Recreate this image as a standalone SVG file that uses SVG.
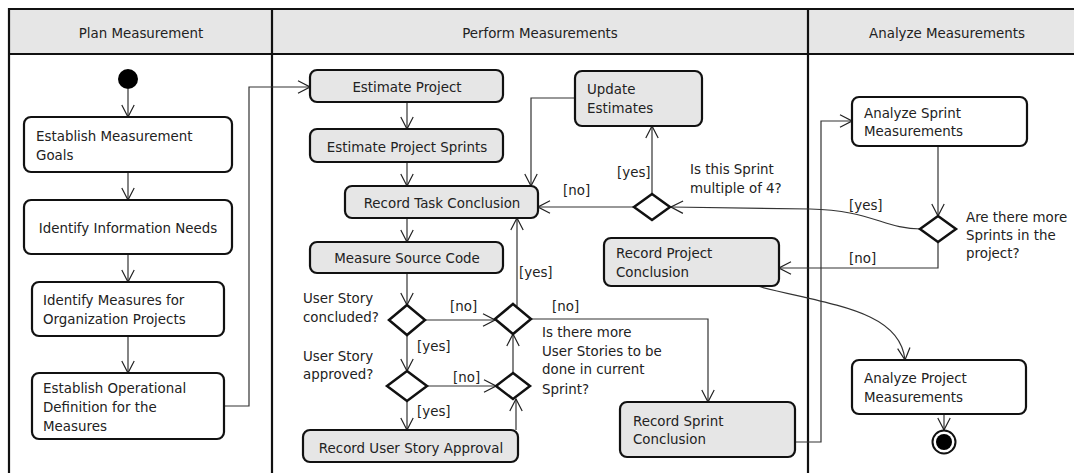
<svg xmlns="http://www.w3.org/2000/svg" width="1074" height="473" viewBox="0 0 1074 473">
<defs>
<marker id="arr" viewBox="0 0 14 14" refX="13" refY="7" markerWidth="14" markerHeight="14" markerUnits="userSpaceOnUse" orient="auto">
<path d="M1,0.8 L13,7 L1,13.2" fill="none" stroke="#222" stroke-width="1.2"/>
</marker>
<style>
text{font-family:"DejaVu Sans","Liberation Sans",sans-serif;font-size:13.4px;fill:#222}
.c{text-anchor:middle}
.node{stroke:#111;stroke-width:2.2}
.gray{fill:#e6e6e6}
.white{fill:#fff}
.dia{fill:#fff;stroke:#111;stroke-width:2.5}
.conn{fill:none;stroke:#333;stroke-width:1.2}
.frame{fill:none;stroke:#111;stroke-width:2.2}
</style>
</defs>
<rect width="1074" height="473" fill="#fff"/>
<g id="lanes">
<rect x="9" y="9" width="1080" height="45" fill="#e6e6e6"/>
<path class="frame" d="M1090,9 H9 V480 M9,54 H1090 M272,9 V480 M808,9 V480"/>
<text class="c" x="141" y="38">Plan Measurement</text>
<text class="c" x="540" y="38">Perform Measurements</text>
<text class="c" x="947" y="38">Analyze Measurements</text>
</g>
<g id="connectors">
<path class="conn" marker-end="url(#arr)" d="M128,89 V117"/>
<path class="conn" marker-end="url(#arr)" d="M128,172 V200"/>
<path class="conn" marker-end="url(#arr)" d="M128,254 V282"/>
<path class="conn" marker-end="url(#arr)" d="M128,336 V373"/>
<path class="conn" marker-end="url(#arr)" d="M224,406 H249 V87 H310"/>
<path class="conn" marker-end="url(#arr)" d="M407,102 V129"/>
<path class="conn" marker-end="url(#arr)" d="M407,162 V186"/>
<path class="conn" marker-end="url(#arr)" d="M407,218 V242"/>
<path class="conn" marker-end="url(#arr)" d="M407,273 V305"/>
<path class="conn" marker-end="url(#arr)" d="M407,335 V371"/>
<path class="conn" marker-end="url(#arr)" d="M407,401 V430"/>
<path class="conn" marker-end="url(#arr)" d="M425,320 H495"/>
<path class="conn" marker-end="url(#arr)" d="M428,386 H496"/>
<path class="conn" marker-end="url(#arr)" d="M516,430 V399"/>
<path class="conn" marker-end="url(#arr)" d="M513,373 V334"/>
<path class="conn" marker-end="url(#arr)" d="M517,306 V218"/>
<path class="conn" marker-end="url(#arr)" d="M531,319 H708 V402"/>
<path class="conn" marker-end="url(#arr)" d="M652,194 V126"/>
<path class="conn" marker-end="url(#arr)" d="M634,207 H538"/>
<path class="conn" marker-end="url(#arr)" d="M575,98 H531 V186"/>
<path class="conn" marker-end="url(#arr)" d="M921,229 C885,229 870,210 810,209 L671,207"/>
<path class="conn" marker-end="url(#arr)" d="M938,146 V216"/>
<path class="conn" marker-end="url(#arr)" d="M938,242 V268 H779"/>
<path class="conn" marker-end="url(#arr)" d="M757,286 C830,305 900,310 905,360"/>
<path class="conn" marker-end="url(#arr)" d="M795,442 H821 V121 H852"/>
<path class="conn" marker-end="url(#arr)" d="M944,414 V430"/>
<text x="617" y="177">[yes]</text>
<text x="563" y="195">[no]</text>
<text x="849" y="210">[yes]</text>
<text x="849" y="263">[no]</text>
<text x="519" y="277">[yes]</text>
<text x="450" y="311">[no]</text>
<text x="552" y="311">[no]</text>
<text x="417" y="351">[yes]</text>
<text x="453" y="382">[no]</text>
<text x="417" y="416">[yes]</text>
</g>
<g id="initial"><circle cx="128" cy="79" r="10" fill="#000"/></g>
<g id="establish-goals"><rect class="node white" x="24" y="117" width="208" height="55" rx="7"/><text x="36" y="141">Establish Measurement</text><text x="36" y="160">Goals</text></g>
<g id="identify-needs"><rect class="node white" x="24" y="200" width="208" height="54" rx="7"/><text class="c" x="128" y="233">Identify Information Needs</text></g>
<g id="identify-measures"><rect class="node white" x="32" y="282" width="192" height="54" rx="7"/><text x="43" y="305">Identify Measures for</text><text x="43" y="324">Organization Projects</text></g>
<g id="operational-definition"><rect class="node white" x="32" y="373" width="192" height="66" rx="7"/><text x="43" y="393">Establish Operational</text><text x="43" y="412">Definition for the</text><text x="43" y="431">Measures</text></g>
<g id="estimate-project"><rect class="node gray" x="310" y="70" width="193" height="32" rx="7"/><text class="c" x="407" y="92">Estimate Project</text></g>
<g id="estimate-sprints"><rect class="node gray" x="310" y="129" width="193" height="33" rx="7"/><text class="c" x="407" y="152">Estimate Project Sprints</text></g>
<g id="record-task"><rect class="node gray" x="345" y="186" width="193" height="32" rx="7"/><text class="c" x="442" y="208">Record Task Conclusion</text></g>
<g id="measure-code"><rect class="node gray" x="310" y="242" width="193" height="31" rx="7"/><text class="c" x="407" y="263">Measure Source Code</text></g>
<g id="d-concluded"><path class="dia" d="M407,305 L425,320 L407,335 L389,320 Z"/><text x="303" y="303">User Story</text><text x="303" y="322">concluded?</text></g>
<g id="d-approved"><path class="dia" d="M407,371 L427,386 L407,401 L387,386 Z"/><text x="303" y="361">User Story</text><text x="303" y="379">approved?</text></g>
<g id="record-approval"><rect class="node gray" x="303" y="430" width="215" height="32" rx="7"/><text class="c" x="411" y="453">Record User Story Approval</text></g>
<g id="d-more-stories"><path class="dia" d="M513,304 L531,319 L513,334 L495,319 Z"/><text x="542" y="337">Is there more</text><text x="542" y="356">User Stories to be</text><text x="542" y="374">done in current</text><text x="542" y="394">Sprint?</text></g>
<g id="d-merge"><path class="dia" d="M513,373 L530,386 L513,399 L496,386 Z"/></g>
<g id="update-estimates"><rect class="node gray" x="575" y="71" width="127" height="55" rx="7"/><text x="587" y="94">Update</text><text x="587" y="113">Estimates</text></g>
<g id="d-multiple4"><path class="dia" d="M652,194 L670,207 L652,220 L634,207 Z"/><text x="690" y="174">Is this Sprint</text><text x="690" y="193">multiple of 4?</text></g>
<g id="record-project"><rect class="node gray" x="604" y="238" width="175" height="48" rx="7"/><text x="616" y="258">Record Project</text><text x="616" y="277">Conclusion</text></g>
<g id="record-sprint"><rect class="node gray" x="620" y="402" width="175" height="55" rx="7"/><text x="633" y="426">Record Sprint</text><text x="633" y="444">Conclusion</text></g>
<g id="analyze-sprint"><rect class="node white" x="852" y="97" width="175" height="49" rx="7"/><text x="864" y="118">Analyze Sprint</text><text x="864" y="136">Measurements</text></g>
<g id="d-more-sprints"><path class="dia" d="M938,216 L956,229 L938,242 L920,229 Z"/><text x="966" y="222">Are there more</text><text x="966" y="240">Sprints in the</text><text x="966" y="258">project?</text></g>
<g id="analyze-project"><rect class="node white" x="852" y="360" width="174" height="54" rx="7"/><text x="864" y="383">Analyze Project</text><text x="864" y="402">Measurements</text></g>
<g id="final"><circle cx="944" cy="442" r="11.5" fill="#fff" stroke="#111" stroke-width="2"/><circle cx="944" cy="442" r="8" fill="#000"/></g>
</svg>
